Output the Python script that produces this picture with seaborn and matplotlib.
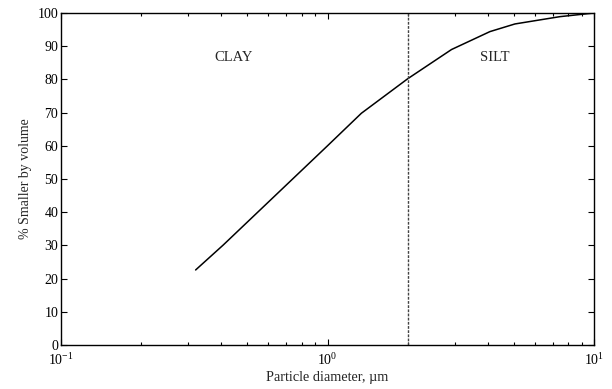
import matplotlib
matplotlib.use("Agg")
import matplotlib.pyplot as plt
import seaborn as sns
import pandas as pd

diameter_um = [0.32, 0.406, 1.0, 1.34, 2.0, 2.92, 4.07, 5.05, 7.45, 10.0]
pct_smaller = [22.6, 30.1, 60.0, 69.8, 80.2, 89.0, 94.4, 96.7, 98.9, 100.0]
boundary_um = 2.0
region_labels = ["CLAY", "SILT"]
region_label_x = [0.445, 4.25]
region_label_y = 86.5

sns.set_theme(style="ticks")
plt.rcParams['font.family'] = ['Liberation Serif', 'DejaVu Serif']
plt.rcParams['mathtext.fontset'] = 'custom'
plt.rcParams['mathtext.rm'] = 'Liberation Serif'

df = pd.DataFrame({"d": diameter_um, "p": pct_smaller})

fig = plt.figure(figsize=(6.12, 3.89), dpi=100)
ax = fig.add_axes([61/612, 44/389, 533/612, 332/389])
sns.lineplot(data=df, x="d", y="p", ax=ax, color="black", linewidth=1.1)
ax.set_xscale("log")
ax.set_xlim(0.1, 10)
ax.set_ylim(0, 100)
ax.set_yticks(range(0, 101, 10))
ax.axvline(boundary_um, color="#444444", linestyle=(0, (2, 1)), linewidth=1.0)
for lab, x in zip(region_labels, region_label_x):
    ax.text(x, region_label_y, lab, ha="center", va="center", fontsize=10.5)
ax.set_xlabel("Particle diameter, µm", fontsize=10.3, labelpad=2)
ax.set_ylabel("% Smaller by volume", fontsize=10, labelpad=4)
for s in ax.spines.values():
    s.set_linewidth(1.0)
    s.set_color("black")
ax.tick_params(which="both", direction="in", top=True, right=True, labelsize=10, color="black", labelcolor="black")
ax.tick_params(which="major", length=4, width=0.8)
ax.tick_params(which="minor", length=2.5, width=0.8)
ax.tick_params(axis="x", which="major", pad=5)
ax.tick_params(axis="y", which="major", pad=2)
ax.minorticks_on()
ax.yaxis.set_minor_locator(matplotlib.ticker.NullLocator())
fig.savefig("out.png", dpi=100)
